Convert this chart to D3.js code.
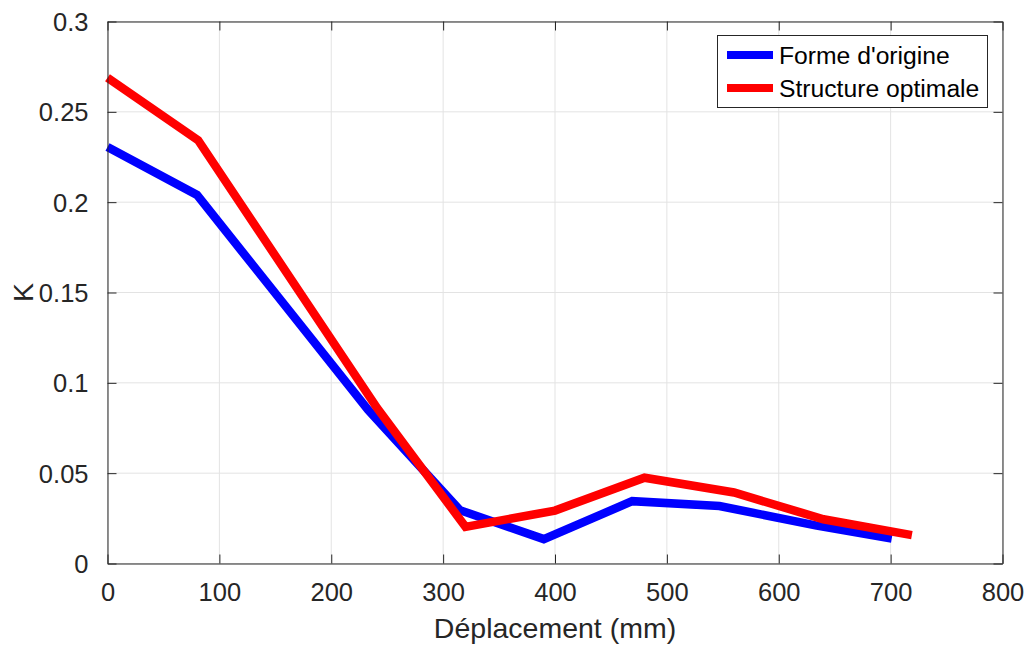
<!DOCTYPE html>
<html><head><meta charset="utf-8">
<script src="https://cdn.jsdelivr.net/npm/d3@7"></script>
<style>
html,body{margin:0;padding:0;background:#fff;}
svg{display:block;font-family:"Liberation Sans",Arial,Helvetica,sans-serif;}
</style></head>
<body>
<svg id="chart" width="1028" height="646"></svg>
<script>
const seriesNames = ["Forme d'origine", "Structure optimale"];
const seriesColors = ["#0000ff", "#ff0000"];
const blueX = [0, 80, 233, 315, 390, 469, 547, 634, 701];
const blueY = [0.2305, 0.204, 0.085, 0.0295, 0.0135, 0.0345, 0.0318, 0.021, 0.0138];
const redX = [0, 81, 241, 320, 400, 480, 560, 640, 719];
const redY = [0.2688, 0.2343, 0.086, 0.0203, 0.0293, 0.0475, 0.0393, 0.0245, 0.0157];
const xTicks = [0, 100, 200, 300, 400, 500, 600, 700, 800];
const yTicks = [0, 0.05, 0.1, 0.15, 0.2, 0.25, 0.3];
const xLabel = "Déplacement (mm)";
const yLabel = "K";

const svg = d3.select("#chart");
const L = 107.5, R = 1002.5, T = 21.5, B = 563.5;
const x = d3.scaleLinear().domain([0, 800]).range([L, R]);
const y = d3.scaleLinear().domain([0, 0.3]).range([B, T]);
const axisColor = "#262626";

// grid
const g = svg.append("g");
g.selectAll("line.gx").data(xTicks).enter().append("line")
  .attr("x1", d => x(d)).attr("x2", d => x(d)).attr("y1", T).attr("y2", B)
  .attr("stroke", "#e3e3e3").attr("stroke-width", 1);
g.selectAll("line.gy").data(yTicks).enter().append("line")
  .attr("y1", d => y(d)).attr("y2", d => y(d)).attr("x1", L).attr("x2", R)
  .attr("stroke", "#e3e3e3").attr("stroke-width", 1);

// lines
const series = [
  {name: seriesNames[0], color: seriesColors[0], xs: blueX, ys: blueY},
  {name: seriesNames[1], color: seriesColors[1], xs: redX, ys: redY}
];
const line = d3.line().x(d => x(d[0])).y(d => y(d[1]));
series.forEach(s => {
  svg.append("path")
    .datum(s.xs.map((v, i) => [v, s.ys[i]]))
    .attr("d", line).attr("fill", "none")
    .attr("stroke", s.color).attr("stroke-width", 8.5)
    .attr("stroke-linejoin", "miter").attr("stroke-linecap", "butt");
});

// axes (box style, ticks inside)
const fmtY = d => d3.format("")(+d.toFixed(2));
const xb = svg.append("g").attr("transform", `translate(0,${B})`)
  .call(d3.axisBottom(x).tickValues(xTicks).tickSize(-9).tickPadding(19).tickSizeOuter(0));
const xt = svg.append("g").attr("transform", `translate(0,${T})`)
  .call(d3.axisTop(x).tickValues(xTicks).tickSize(-9).tickFormat("").tickSizeOuter(0));
const yl = svg.append("g").attr("transform", `translate(${L},0)`)
  .call(d3.axisLeft(y).tickValues(yTicks).tickSize(-9).tickPadding(19).tickFormat(fmtY).tickSizeOuter(0));
const yr = svg.append("g").attr("transform", `translate(${R},0)`)
  .call(d3.axisRight(y).tickValues(yTicks).tickSize(-9).tickFormat("").tickSizeOuter(0));
[xb, xt, yl, yr].forEach(a => {
  a.select(".domain").attr("stroke", axisColor).attr("stroke-width", 1);
  a.selectAll(".tick line").attr("stroke", axisColor).attr("stroke-width", 1);
  a.selectAll(".tick text").attr("fill", axisColor)
    .style("font-size", "25.5px").style("font-family", "'Liberation Sans', Arial, sans-serif");
});
xb.selectAll(".tick text").attr("dy", "0.71em");
yl.selectAll(".tick text").attr("dy", "0.35em");

// axis labels
svg.append("text").attr("x", (L + R) / 2).attr("y", 638)
  .attr("text-anchor", "middle").attr("fill", axisColor)
  .style("font-size", "28.5px").text(xLabel);
svg.append("text").attr("transform", `translate(33,${(T + B) / 2}) rotate(-90)`)
  .attr("text-anchor", "middle").attr("fill", axisColor)
  .style("font-size", "28.5px").text(yLabel);

// legend
const lg = svg.append("g");
lg.append("rect").attr("x", 717.5).attr("y", 35.5).attr("width", 270).attr("height", 72)
  .attr("fill", "#fff").attr("stroke", axisColor).attr("stroke-width", 1);
series.forEach((s, i) => {
  const yy = 55 + i * 33;
  lg.append("line").attr("x1", 727).attr("x2", 773).attr("y1", yy).attr("y2", yy)
    .attr("stroke", s.color).attr("stroke-width", 8);
  lg.append("text").attr("x", 779).attr("y", yy).attr("dy", "0.35em")
    .attr("fill", "#000").style("font-size", "24.7px").text(s.name);
});
</script>
</body></html>
